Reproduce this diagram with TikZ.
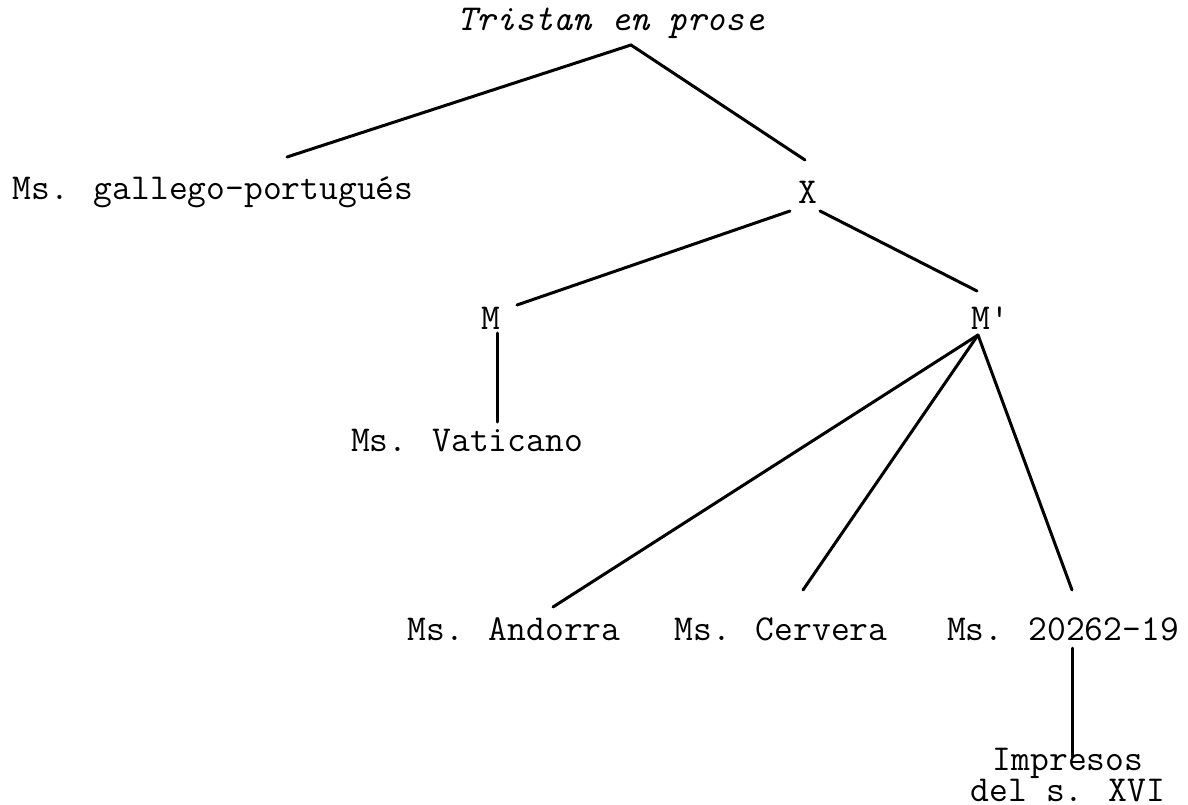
\documentclass[tikz,border=0pt]{standalone}
\usepackage{fontspec}
\begin{document}
\begin{tikzpicture}[x=1pt,y=-1pt,
  lbl/.style={font=\ttfamily\fontsize{36.5}{31}\selectfont, inner sep=0pt, align=center},
  edge/.style={line width=3pt, line cap=round}]
\useasboundingbox (0,0) rectangle (1188,805);
% nodes
\node[lbl] (tristan) at (611,23) {\itshape Tristan en prose};
\node[lbl] (gp) at (213,192) {Ms. gallego-portugués};
\node[lbl] (x) at (808,192) {X};
\node[lbl] (m) at (491,318) {M};
\node[lbl] (mp) at (990,318) {M'};
\node[lbl] (vat) at (467,441) {Ms. Vaticano};
\node[lbl] (and) at (514,629) {Ms. Andorra};
\node[lbl] (cer) at (781,629) {Ms. Cervera};
\node[lbl] (ms20) at (1063,629) {Ms. 20262-19};
\node[lbl] (imp) at (1068,775) {Impresos\\del s. XVI};
% connector end points
\coordinate (tA) at (631,45);
\coordinate (gpT) at (287,157);
\coordinate (xT) at (805,160);
\coordinate (xL) at (790,211);
\coordinate (xR) at (820,211);
\coordinate (mT) at (517,305);
\coordinate (mpT) at (977,291);
\coordinate (mB) at (497,333);
\coordinate (vatT) at (497,422);
\coordinate (mpB) at (978,335);
\coordinate (andT) at (553,607);
\coordinate (cerT) at (803,590);
\coordinate (ms20T) at (1072,590);
\coordinate (ms20B) at (1072,648);
\coordinate (impT) at (1072,757);
% connectors
\draw[edge] (gpT) -- (tA) -- (xT);
\draw[edge] (mT) -- (xL);
\draw[edge] (xR) -- (mpT);
\draw[edge] (mB) -- (vatT);
\draw[edge] (mpB) -- (andT);
\draw[edge] (mpB) -- (cerT);
\draw[edge] (mpB) -- (ms20T);
\draw[edge] (ms20B) -- (impT);
\end{tikzpicture}
\end{document}
